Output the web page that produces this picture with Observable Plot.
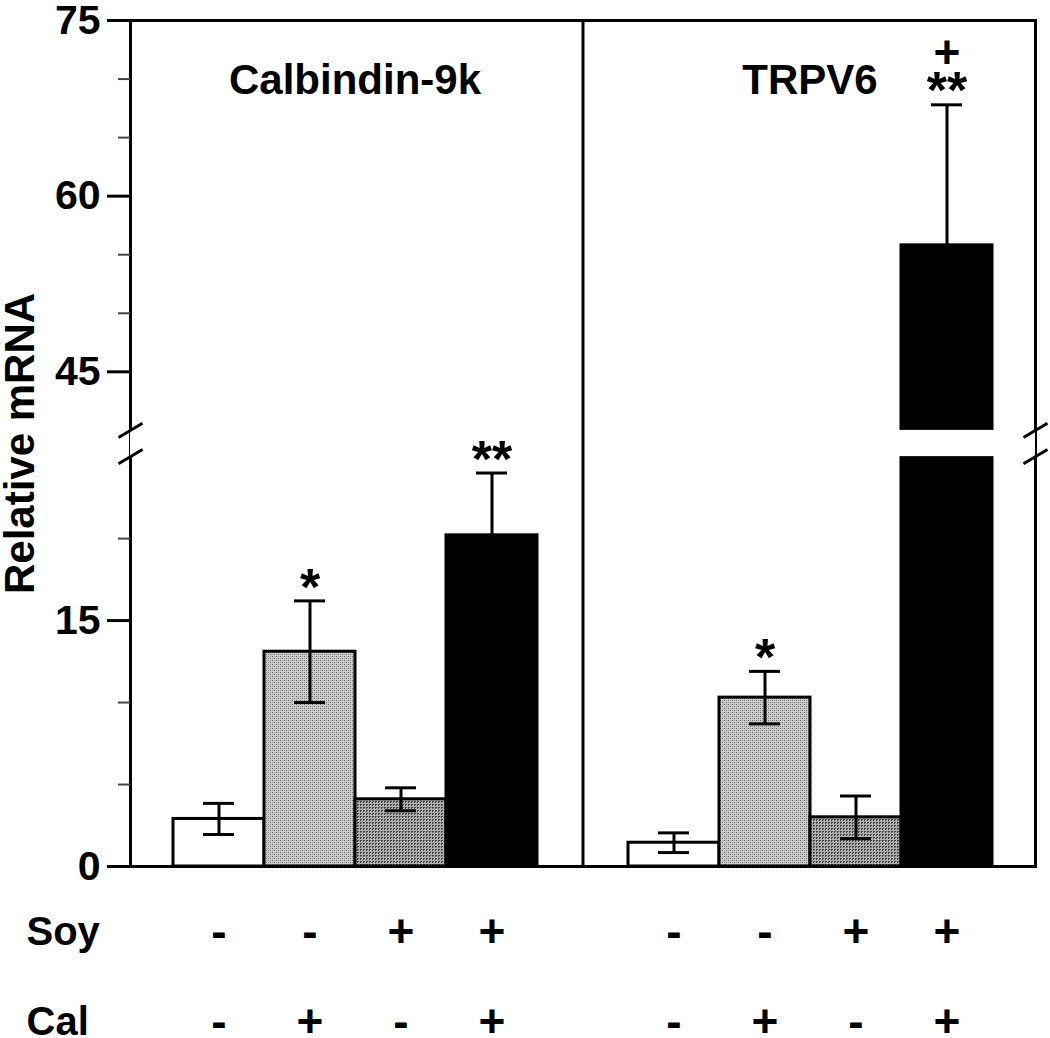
<!DOCTYPE html>
<html>
<head>
<meta charset="utf-8">
<script src="https://cdn.jsdelivr.net/npm/d3@7"></script>
<script src="https://cdn.jsdelivr.net/npm/@observablehq/plot@0.6"></script>
<style>
  html, body { margin: 0; padding: 0; background: #fff; }
  #chart { width: 1050px; height: 1038px; }
</style>
</head>
<body>
<div id="chart"></div>
<script>
// ---------------- data ----------------
const genes = ["Calbindin-9k", "TRPV6"];
const soy = ["-", "-", "+", "+"];
const cal = ["-", "+", "-", "+"];
const calbindinMean = [2.9, 13.1, 4.1, 20.2];
const calbindinErr = [0.95, 3.1, 0.7, 3.8];
const trpv6Mean = [1.45, 10.3, 3.0, 55.8];
const trpv6Err = [0.6, 1.6, 1.3, 12.0];
const calbindinSig = ["", "*", "", "**"];
const trpv6Sig = ["", "*", "", "**"];
const trpv6Sig2 = ["", "", "", "+"];
const groupFills = ["white", "url(#patLight)", "url(#patDark)", "black"];
const majorTicks = [0, 15, 45, 60, 75];
const minorTicks = [5, 10, 20, 50, 55, 65, 70];
const axisBreak = [25, 40];
const yMax = 75;
const yLabel = "Relative mRNA";
const rowLabels = ["Soy", "Cal"];

// ---------------- table ----------------
const means = [calbindinMean, trpv6Mean];
const errs = [calbindinErr, trpv6Err];
const sigs = [calbindinSig, trpv6Sig];
const sigs2 = [["", "", "", ""], trpv6Sig2];
const rows = [];
genes.forEach((g, gi) => {
  soy.forEach((s, i) => {
    rows.push({
      gene: g, key: `${g}|${i}`, i,
      mean: means[gi][i], err: errs[gi][i],
      lo: means[gi][i] - errs[gi][i], hi: means[gi][i] + errs[gi][i],
      soy: soy[i], cal: cal[i],
      sig: sigs[gi][i], sig2: sigs2[gi][i],
      fill: groupFills[i]
    });
  });
});
const gapKey = "gap";
const xDomain = [...rows.filter(d => d.gene === genes[0]).map(d => d.key), gapKey,
                 ...rows.filter(d => d.gene === genes[1]).map(d => d.key)];

// broken axis: lower 0..25 and upper 40..75 get equal heights
const [b0, b1] = axisBreak;
const upperSpan = yMax - b1;
const gapUnits = 1.6;
const brk = v => v <= b0 ? v
  : v >= b1 ? b0 + gapUnits + (v - b1) * (b0 / upperSpan)
  : b0 + (v - b0) / (b1 - b0) * gapUnits;
const tickLabelOf = new Map(majorTicks.map(v => [brk(v), `${v}`]));

// slash symbol for the axis break
const slash = {
  draw(context, size) {
    const r = Math.sqrt(size / Math.PI);
    context.moveTo(-r, r * 0.6);
    context.lineTo(r, -r * 0.6);
  }
};

const FONT = "'Liberation Sans', Arial, Helvetica, sans-serif";

const chart = Plot.plot({
  width: 1050,
  height: 1038,
  marginTop: 20,
  marginBottom: 172,
  marginLeft: 130,
  marginRight: 15,
  style: `font-family: ${FONT}; font-weight: bold; font-size: 40px; color: black; background: white;`,
  x: { type: "band", domain: xDomain, paddingInner: 0, paddingOuter: 0.47, axis: null },
  y: { transform: brk, domain: [brk(0), brk(yMax)], axis: null },
  marks: [
    Plot.frame({ stroke: "black", strokeWidth: 3 }),
    Plot.barY(rows, { x: "key", y: "mean", fill: "fill", stroke: "black", strokeWidth: 3 }),
    // white gap of the broken axis
    Plot.rect([axisBreak], { y1: d => d[0], y2: d => d[1], fill: "white" }),
    Plot.ruleX([gapKey], { stroke: "black", strokeWidth: 3 }),
    Plot.dotY(axisBreak, { frameAnchor: "left", symbol: slash, r: 12, stroke: "black", strokeWidth: 3 }),
    Plot.dotY(axisBreak, { frameAnchor: "right", symbol: slash, r: 12, stroke: "black", strokeWidth: 3 }),
    // error bars
    Plot.ruleX(rows, { x: "key", y1: "lo", y2: "hi", stroke: "black", strokeWidth: 3 }),
    Plot.tickY(rows, { x: "key", y: "hi", stroke: "black", strokeWidth: 3, insetLeft: 30, insetRight: 30 }),
    Plot.tickY(rows, { x: "key", y: "lo", stroke: "black", strokeWidth: 3, insetLeft: 30, insetRight: 30 }),
    // significance marks
    Plot.text(rows, { x: "key", y: "hi", text: "sig", dy: -13, lineAnchor: "middle", fontSize: 52, fill: "black" }),
    Plot.text(rows, { x: "key", y: "hi", text: "sig2", dy: -52, lineAnchor: "middle", fontSize: 46, fill: "black" }),
    // panel titles
    Plot.text(rows.filter(d => d.i === 1), { x: "key", text: "gene", frameAnchor: "top", dx: 45, dy: 60, lineAnchor: "middle", fontSize: 42, fill: "black" }),
    // y axis (ticks placed in the broken-axis space)
    Plot.axisY({ ticks: majorTicks.map(brk), tickSize: 23, tickPadding: 7, strokeWidth: 3, fontSize: 41, fill: "black", label: null, tickFormat: d => tickLabelOf.get(d) }),
    Plot.axisY({ ticks: minorTicks.map(brk), tickSize: 12, strokeWidth: 2, stroke: "#444", label: null, tickFormat: () => "" }),
    Plot.text([yLabel], { frameAnchor: "left", textAnchor: "middle", rotate: -90, dx: -110, fontSize: 42, fill: "black" }),
    // treatment rows
    Plot.text(rows, { x: "key", text: "soy", frameAnchor: "bottom", dy: 66, lineAnchor: "middle", fontSize: 46, fill: "black" }),
    Plot.text(rows, { x: "key", text: "cal", frameAnchor: "bottom", dy: 156, lineAnchor: "middle", fontSize: 46, fill: "black" }),
    Plot.text([rowLabels[0]], { frameAnchor: "bottom-left", dx: -104, dy: 66, textAnchor: "start", lineAnchor: "middle", fontSize: 40, fill: "black" }),
    Plot.text([rowLabels[1]], { frameAnchor: "bottom-left", dx: -104, dy: 156, textAnchor: "start", lineAnchor: "middle", fontSize: 40, fill: "black" })
  ]
});

// hatch patterns for the grey bars
const svg = d3.select(chart.tagName.toLowerCase() === "svg" ? chart : chart.querySelector("svg"));
svg.insert("defs", ":first-child").html(`
  <pattern id="patLight" width="4" height="4" patternUnits="userSpaceOnUse">
    <rect width="4" height="4" fill="#cdcdcd"/>
    <rect x="0" y="0" width="1" height="1" fill="#666"/>
    <rect x="2" y="2" width="1" height="1" fill="#666"/>
    <rect x="2" y="0" width="1" height="1" fill="#999"/>
    <rect x="0" y="2" width="1" height="1" fill="#999"/>
  </pattern>
  <pattern id="patDark" width="3" height="3" patternUnits="userSpaceOnUse">
    <rect width="3" height="3" fill="#b0b0b0"/>
    <rect x="0" y="0" width="2" height="1" fill="#444"/>
    <rect x="0" y="0" width="1" height="2" fill="#444"/>
  </pattern>`);

document.getElementById("chart").appendChild(chart);
</script>
</body>
</html>
